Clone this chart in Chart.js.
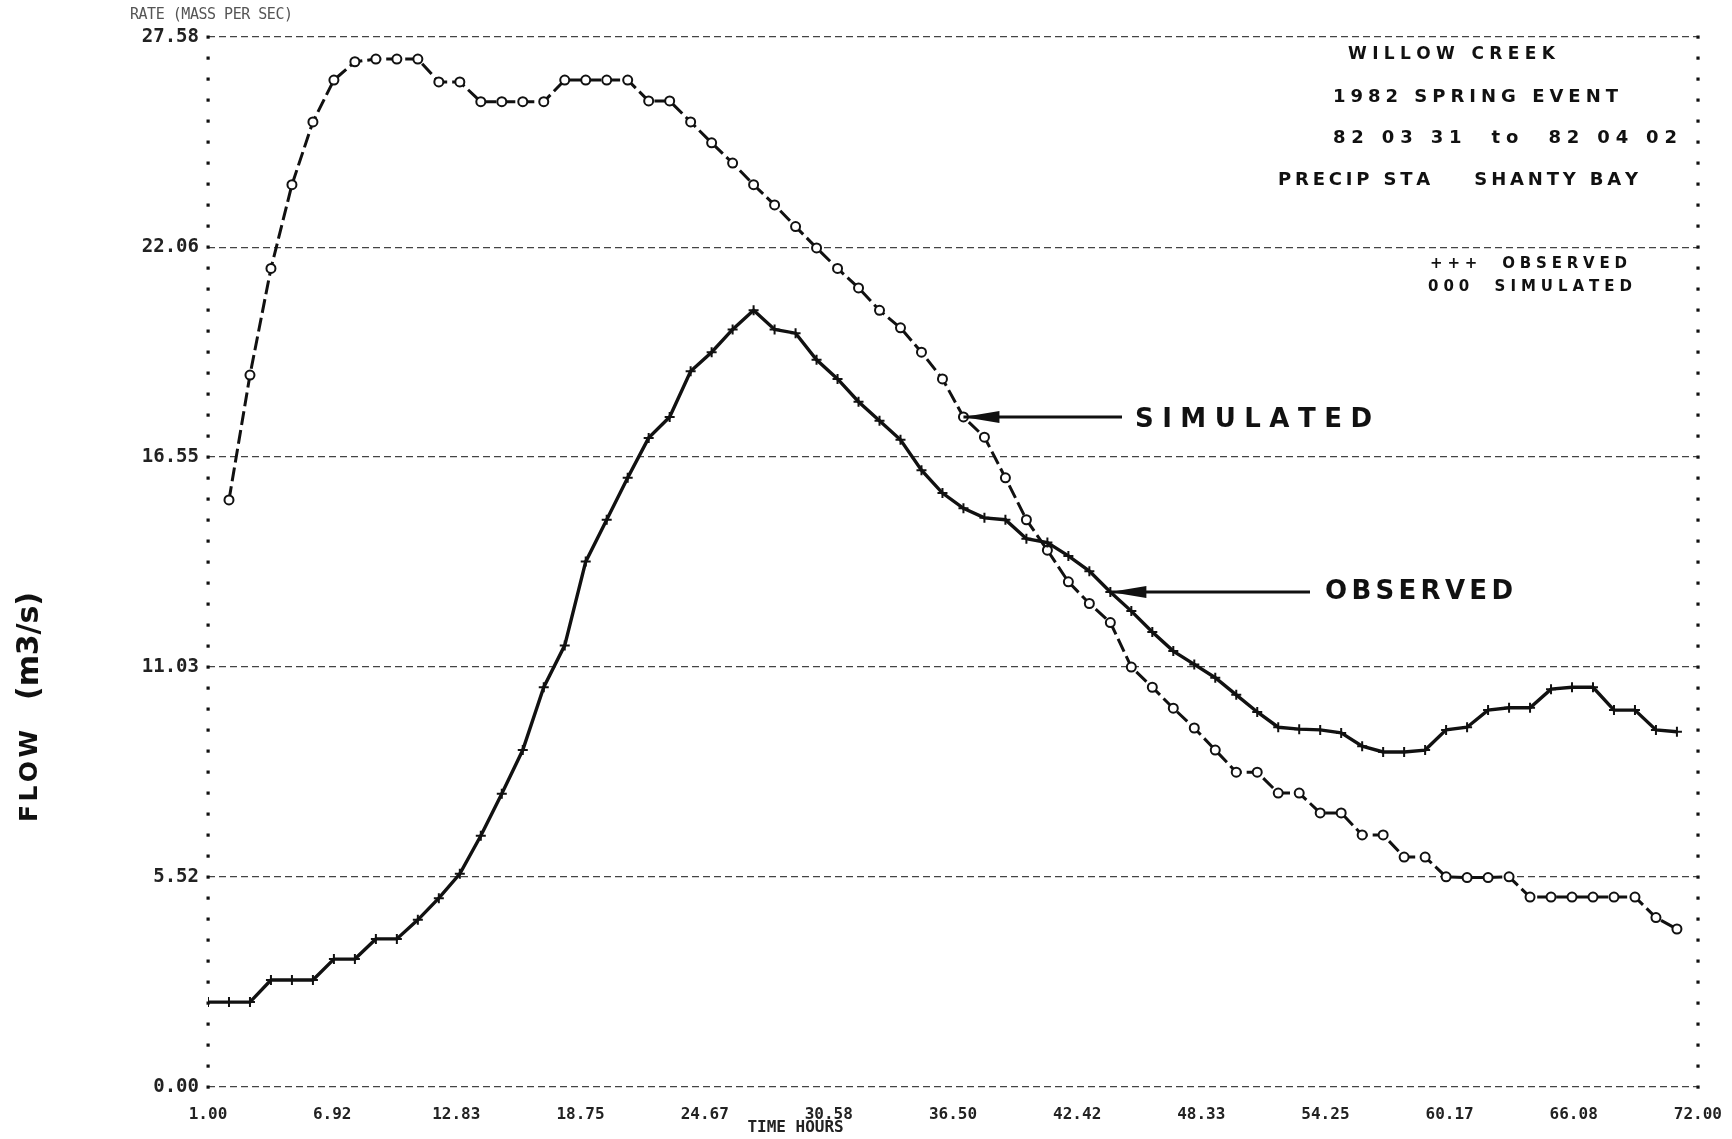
<!DOCTYPE html>
<html>
<head>
<meta charset="utf-8">
<script src="https://cdn.jsdelivr.net/npm/chart.js@4.4.1/dist/chart.umd.min.js"></script>
<style>
  html, body { margin: 0; padding: 0; background: #fff; }
</style>
</head>
<body>
<canvas id="chart" width="1732" height="1139"></canvas>
<script>
// hourly flows (m3/s), hour 1 .. 71
var hours = [1, 2, 3, 4, 5, 6, 7, 8, 9, 10, 11, 12, 13, 14, 15, 16, 17, 18, 19, 20,
  21, 22, 23, 24, 25, 26, 27, 28, 29, 30, 31, 32, 33, 34, 35, 36, 37, 38, 39, 40,
  41, 42, 43, 44, 45, 46, 47, 48, 49, 50, 51, 52, 53, 54, 55, 56, 57, 58, 59, 60,
  61, 62, 63, 64, 65, 66, 67, 68, 69, 70, 71];

var observed = [2.23, 2.23, 2.23, 2.81, 2.81, 2.81, 3.36, 3.36, 3.89, 3.89,
  4.39, 4.96, 5.6, 6.6, 7.7, 8.85, 10.5, 11.6, 13.8, 14.9,
  16.0, 17.05, 17.6, 18.8, 19.3, 19.9, 20.4, 19.9, 19.8, 19.1,
  18.6, 18.0, 17.5, 17.0, 16.2, 15.6, 15.2, 14.95, 14.9, 14.4,
  14.3, 13.95, 13.55, 13.0, 12.5, 11.95, 11.45, 11.1, 10.75, 10.3,
  9.85, 9.45, 9.4, 9.38, 9.3, 8.95, 8.8, 8.8, 8.85, 9.38,
  9.45, 9.9, 9.96, 9.96, 10.45, 10.5, 10.5, 9.9, 9.9, 9.38,
  9.33];

var simulated = [null, 15.42, 18.7, 21.5, 23.7, 25.35, 26.45, 26.93, 27.0, 27.0,
  27.0, 26.4, 26.4, 25.88, 25.88, 25.88, 25.88, 26.45, 26.45, 26.45,
  26.45, 25.9, 25.9, 25.35, 24.8, 24.27, 23.7, 23.17, 22.6, 22.04,
  21.5, 20.99, 20.4, 19.94, 19.3, 18.6, 17.6, 17.07, 16.0, 14.9,
  14.1, 13.27, 12.7, 12.2, 11.03, 10.5, 9.95, 9.43, 8.85, 8.27,
  8.27, 7.72, 7.72, 7.2, 7.2, 6.62, 6.62, 6.04, 6.04, 5.52,
  5.5, 5.5, 5.52, 4.99, 4.99, 4.99, 4.99, 4.99, 4.99, 4.45,
  4.15];

var xTicks = [1.00, 6.92, 12.83, 18.75, 24.67, 30.58, 36.50, 42.42, 48.33, 54.25, 60.17, 66.08, 72.00];
var yTicks = [0.00, 5.52, 11.03, 16.55, 22.06, 27.58];

var noteLines = ["WILLOW CREEK", "1982 SPRING EVENT", "82 03 31  to  82 04 02", "PRECIP STA    SHANTY BAY"];
var keyLines = ["+++  OBSERVED", "000  SIMULATED"];

var PRINT = '"DejaVu Sans Mono", monospace';
var HAND = '"DejaVu Sans", sans-serif';

// draws text with its letters spread out over a given width
function spaced(ctx, text, x, y, w) {
  var chars = text.split("");
  var total = 0;
  chars.forEach(function (c) { total += ctx.measureText(c).width; });
  var gap = chars.length > 1 ? (w - total) / (chars.length - 1) : 0;
  var cx = x;
  chars.forEach(function (c) {
    ctx.fillText(c, cx, y);
    cx += ctx.measureText(c).width + gap;
  });
}

function arrow(ctx, tx, ty, endX) {
  ctx.lineWidth = 3;
  ctx.beginPath();
  ctx.moveTo(tx, ty);
  ctx.lineTo(endX, ty);
  ctx.stroke();
  ctx.beginPath();
  ctx.moveTo(tx, ty);
  ctx.lineTo(tx + 36, ty - 6);
  ctx.lineTo(tx + 36, ty + 6);
  ctx.closePath();
  ctx.fill();
}

var extras = {
  id: "extras",
  afterDraw: function (chart) {
    var ctx = chart.ctx;
    var xs = chart.scales.x, ys = chart.scales.y;
    var a = chart.chartArea;
    ctx.save();
    ctx.fillStyle = "#111";
    ctx.strokeStyle = "#111";

    // dotted frame on both sides
    for (var i = 0; i <= 50; i++) {
      var py = ys.getPixelForValue(i * yTicks[5] / 50);
      ctx.fillRect(a.left - 1.5, py - 1.5, 3.2, 3.2);
      ctx.fillRect(a.right - 1.5, py - 1.5, 3.2, 3.2);
    }

    // printed captions
    ctx.textBaseline = "middle";
    ctx.fillStyle = "#555";
    ctx.font = "15px " + PRINT;
    spaced(ctx, "RATE (MASS PER SEC)", 130, 15, 163);
    ctx.fillStyle = "#222";
    ctx.font = "bold 16px " + PRINT;
    ctx.textAlign = "center";
    ctx.fillText("TIME HOURS", xs.getPixelForValue(29.0), 1128);
    ctx.textAlign = "left";

    // handwritten notes
    ctx.fillStyle = "#111";
    ctx.font = "bold 17px " + HAND;
    spaced(ctx, noteLines[0], 1348, 55, 207);
    ctx.font = "bold 18px " + HAND;
    spaced(ctx, noteLines[1], 1333, 97, 285);
    spaced(ctx, noteLines[2], 1333, 138, 344);
    spaced(ctx, noteLines[3], 1278, 180, 360);
    ctx.font = "bold 15px " + HAND;
    spaced(ctx, keyLines[0], 1430, 264, 197);
    spaced(ctx, keyLines[1], 1428, 287, 204);

    // arrows pointing at the curves
    var sx = xs.getPixelForValue(hours[36]), sy = ys.getPixelForValue(simulated[36]);
    arrow(ctx, sx, sy, 1122);
    ctx.font = "bold 26px " + HAND;
    spaced(ctx, "SIMULATED", 1135, sy + 3, 237);
    var ox = xs.getPixelForValue(hours[43]), oy = ys.getPixelForValue(observed[43]);
    arrow(ctx, ox, oy, 1310);
    spaced(ctx, "OBSERVED", 1325, oy, 188);

    // side title, written upwards
    ctx.save();
    ctx.translate(30, 0);
    ctx.rotate(-Math.PI / 2);
    ctx.font = "bold 25px " + HAND;
    spaced(ctx, "FLOW", -822, 0, 92);
    ctx.font = "bold 30px " + HAND;
    spaced(ctx, "(m3/s)", -700, 0, 108);
    ctx.restore();
    ctx.restore();
  }
};

new Chart(document.getElementById("chart"), {
  type: "line",
  data: {
    datasets: [
      {
        label: "OBSERVED",
        data: hours.map(function (h, i) { return { x: h, y: observed[i] }; }),
        borderColor: "#111",
        borderWidth: 3.4,
        pointStyle: "cross",
        pointRadius: 5,
        pointBorderWidth: 2,
        pointBorderColor: "#111",
        tension: 0
      },
      {
        label: "SIMULATED",
        data: hours.map(function (h, i) { return { x: h, y: simulated[i] }; }),
        borderColor: "#111",
        borderWidth: 3,
        borderDash: [14, 5],
        pointStyle: "circle",
        pointRadius: 4.5,
        pointBorderWidth: 2,
        pointBorderColor: "#111",
        pointBackgroundColor: "#fff",
        tension: 0
      }
    ]
  },
  options: {
    responsive: false,
    animation: false,
    devicePixelRatio: 1,
    layout: { padding: { left: 0, right: 25, top: 37, bottom: 0 } },
    plugins: {
      legend: { display: false },
      tooltip: { enabled: false }
    },
    scales: {
      x: {
        type: "linear",
        min: 1,
        max: 72,
        afterBuildTicks: function (scale) {
          scale.ticks = xTicks.map(function (v) { return { value: v }; });
        },
        afterFit: function (scale) { scale.height = 52; },
        ticks: {
          padding: 10,
          maxRotation: 0,
          autoSkip: false,
          color: "#222",
          font: { family: PRINT, size: 16, weight: "bold" },
          callback: function (v) { return Number(v).toFixed(2); }
        },
        grid: { display: false },
        border: { display: false }
      },
      y: {
        min: 0,
        max: 27.58,
        afterBuildTicks: function (scale) {
          scale.ticks = yTicks.map(function (v) { return { value: v }; });
        },
        afterFit: function (scale) { scale.width = 208; },
        ticks: {
          padding: 9,
          autoSkip: false,
          color: "#222",
          font: { family: PRINT, size: 19, weight: "bold" },
          callback: function (v) { return Number(v).toFixed(2); }
        },
        grid: { color: "#444", lineWidth: 1.3, drawTicks: false },
        border: { display: false, dash: [7, 4] }
      }
    }
  },
  plugins: [extras]
});
</script>
</body>
</html>
